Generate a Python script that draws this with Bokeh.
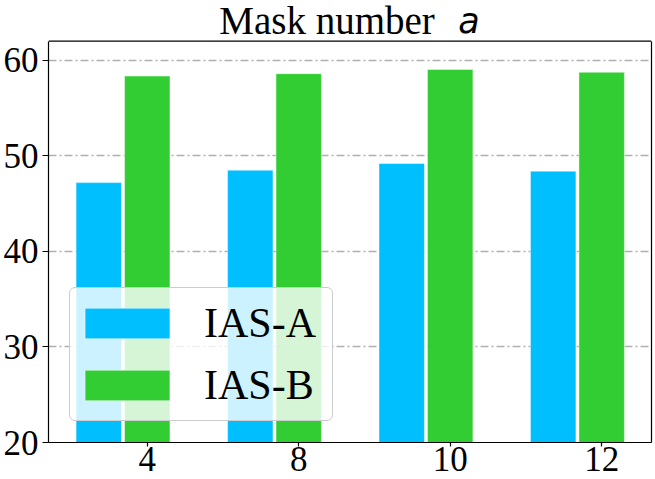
import numpy as np
from bokeh.plotting import figure
from bokeh.models import Range1d, FixedTicker, Legend, LegendItem, Label, Span, LinearAxis
from bokeh.embed import file_html
from bokeh.resources import INLINE

# ---- data ----
mask_labels = ["4", "8", "10", "12"]
ias_a = [47.2, 48.5, 49.2, 48.4]
ias_b = [58.35, 58.6, 59.05, 58.75]
y_ticks = [20, 30, 40, 50, 60]

x = np.arange(len(mask_labels))
x_start, x_end = -0.652, 3.329
y_start, y_top = 20, 62          # visible axis box
y_end = 66.26                    # extra room above the box for the title
title_y = 64.13                  # vertical middle of the title line

p = figure(width=655, height=479, output_backend="svg", toolbar_location=None,
           x_range=Range1d(x_start, x_end), y_range=Range1d(y_start, y_end),
           min_border_left=0, min_border_right=4, min_border_top=0, min_border_bottom=37)

blue = "#00BFFF"
green = "#32CD32"

r_a = p.vbar(x=x - 0.32, top=ias_a, bottom=0, width=0.3,
             fill_color=blue, line_color="white", line_alpha=0.45, line_width=1)
r_b = p.vbar(x=x, top=ias_b, bottom=0, width=0.3,
             fill_color=green, line_color="white", line_alpha=0.45, line_width=1)

# axes
p.xaxis.ticker = FixedTicker(ticks=list(x))
p.xaxis.major_label_overrides = {int(i): lab for i, lab in zip(x, mask_labels)}
p.yaxis.ticker = FixedTicker(ticks=y_ticks)
p.yaxis.bounds = (y_start, y_top)
for ax in (p.xaxis[0], p.yaxis[0]):
    ax.axis_line_color = "black"
    ax.axis_line_width = 1.2
    ax.major_tick_line_color = "black"
    ax.major_tick_line_width = 1.2
    ax.major_tick_in = 0
    ax.minor_tick_line_color = None
    ax.major_label_text_font = "Liberation Serif"
    ax.major_label_text_font_size = "35px"
    ax.major_label_text_color = "black"
p.yaxis.major_tick_out = 6
p.yaxis.major_label_standoff = 4
p.xaxis.major_tick_out = 4
p.xaxis.major_label_standoff = 0

# right edge of the box (no ticks / labels)
right_ax = LinearAxis(ticker=FixedTicker(ticks=[]), bounds=(y_start, y_top),
                      axis_line_color="black", axis_line_width=1.2,
                      major_tick_line_color=None, minor_tick_line_color=None)
p.add_layout(right_ax, "right")
# top edge of the box
p.add_layout(Span(location=y_top, dimension="width", line_color="black", line_width=1.2))

p.xgrid.visible = False
p.ygrid.grid_line_color = "#b0b0b0"
p.ygrid.grid_line_width = 1.3
p.ygrid.grid_line_dash = "8 3 2 3"

p.outline_line_color = None
p.background_fill_color = "white"
p.border_fill_color = "white"

# title: serif text + italic math 'a'
cx = (x_start + x_end) / 2
p.add_layout(Label(x=cx, y=title_y, x_offset=-23, text="Mask number",
                   text_align="center", text_baseline="middle",
                   text_font="Liberation Serif", text_font_size="39px", text_color="black"))
p.add_layout(Label(x=cx, y=title_y, x_offset=119, text="a",
                   text_align="center", text_baseline="middle",
                   text_font="DejaVu Sans", text_font_style="italic",
                   text_font_size="35px", text_color="black"))

legend = Legend(items=[LegendItem(label="IAS-A", renderers=[r_a]),
                       LegendItem(label="IAS-B", renderers=[r_b])],
                location=(21, 21), glyph_width=106, glyph_height=38,
                label_text_font="Liberation Serif", label_text_font_size="42px",
                label_text_color="black", label_height=62, label_width=124,
                label_standoff=24, padding=4, spacing=0, margin=0,
                background_fill_color="white", background_fill_alpha=0.8,
                border_line_color="#cccccc", border_line_width=1.2, border_line_alpha=1.0)
legend.border_radius = 6
p.add_layout(legend)

open("out.html", "w").write(file_html(p, INLINE))
